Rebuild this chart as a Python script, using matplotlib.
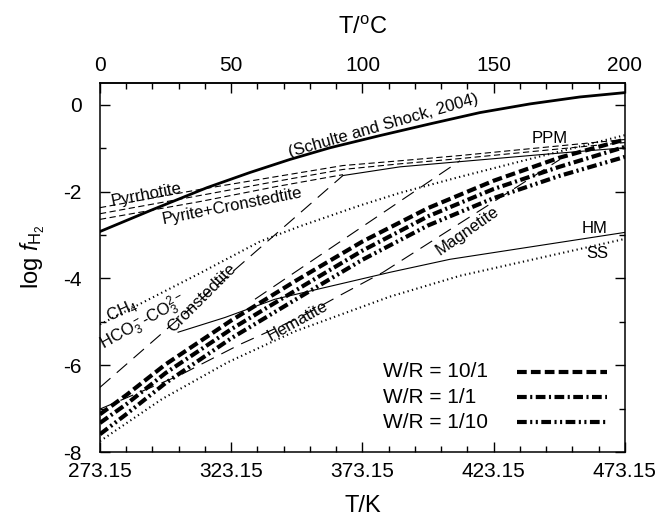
import numpy as np
import matplotlib
matplotlib.use("Agg")
import matplotlib.pyplot as plt

plt.rcParams['font.family'] = ['Liberation Sans', 'DejaVu Sans']
plt.rcParams['mathtext.fontset'] = 'custom'
plt.rcParams['mathtext.rm'] = 'Liberation Sans'
plt.rcParams['mathtext.it'] = 'Liberation Sans:italic'
plt.rcParams['lines.scale_dashes'] = False
plt.rcParams['axes.unicode_minus'] = False

# log fH2 vs temperature (K)
schulte_T = [273.15, 292.2, 313.9, 330.3, 345.5, 360.8, 379.8, 398.9, 417.9, 437.0, 456.0, 473.15]
schulte_f = [-2.92, -2.44, -1.91, -1.56, -1.26, -0.99, -0.71, -0.44, -0.18, 0.02, 0.18, 0.28]

# W/R model curves
wr_T = [273.15, 283.15, 298.15, 323.15, 348.15, 373.15, 398.15, 423.15, 448.15, 473.15]
wr10_f = [-7.13, -6.69, -5.98, -4.97, -4.04, -3.15, -2.38, -1.75, -1.22, -0.80]
wr1_f = [-7.33, -6.90, -6.18, -5.17, -4.26, -3.36, -2.57, -1.94, -1.43, -0.97]
wr01_f = [-7.59, -7.13, -6.41, -5.38, -4.47, -3.57, -2.78, -2.15, -1.64, -1.20]

# sulfide / silicate buffers
sulf_T = [273.15, 311.24, 339.82, 365.72, 387.43, 410.29, 440.77, 473.15]
pyrrh_f = [-2.37, -1.95, -1.66, -1.40, -1.29, -1.17, -0.99, -0.80]
pyrrh2_f = [-2.51, -2.09, -1.77, -1.49, -1.36, -1.24, -1.06, -0.87]
pycr_T = [273.15, 311.24, 339.82, 365.72]
pycr_f = [-2.64, -2.23, -1.89, -1.61]
pycr_solid_T = [365.72, 387.43, 410.29, 440.77, 473.15]
pycr_solid_f = [-1.63, -1.43, -1.31, -1.15, -0.99]

cron_T = [273.15, 365.72]
cron_f = [-6.51, -1.63]
cron2_T = [332.2, 410.29]
cron2_f = [-4.48, -1.29]

hem_T = [273.15, 303.6, 326.5, 349.3, 364.6, 380.96]
hem_f = [-7.01, -6.23, -5.52, -4.90, -4.39, -3.86]
mag_T = [380.96, 448.4]
mag_f = [-3.86, -1.26]

hm_T = [302.9, 320.8, 339.8, 383.6, 406.5, 473.15]
hm_f = [-5.24, -4.90, -4.48, -3.86, -3.56, -2.94]

ch4_T = [273.15, 292.2, 311.24, 334.1, 349.3, 372.2, 387.43, 410.29, 440.77, 473.15]
ch4_f = [-5.06, -4.47, -3.88, -3.15, -2.80, -2.32, -2.03, -1.66, -1.19, -0.70]

ss_T = [273.15, 296.77, 321.91, 347.43, 383.6, 410.29, 473.15]
ss_f = [-7.75, -6.78, -5.93, -5.22, -4.42, -3.94, -3.09]

fig = plt.figure(figsize=(6.67, 5.16), dpi=100)
ax = fig.add_axes([0.1499, 0.124, 0.787, 0.715])

thin = 0.8
shortdash = (0, (4.5, 2.5))
longdash = (0, (10, 6))
dotted = (0, (0.9, 2.4))
ax.plot(schulte_T, schulte_f, color='k', lw=2.0)
ax.plot(sulf_T, pyrrh_f, color='k', lw=thin, linestyle=shortdash)
ax.plot(sulf_T, pyrrh2_f, color='k', lw=thin, linestyle=shortdash)
ax.plot(pycr_T, pycr_f, color='k', lw=thin, linestyle=shortdash)
ax.plot(pycr_solid_T, pycr_solid_f, color='k', lw=thin)
ax.plot(cron_T, cron_f, color='k', lw=thin, linestyle=longdash)
ax.plot(cron2_T, cron2_f, color='k', lw=thin, linestyle=longdash)
ax.plot(hem_T, hem_f, color='k', lw=thin, linestyle=longdash)
ax.plot(mag_T, mag_f, color='k', lw=thin, linestyle=longdash)
ax.plot(hm_T, hm_f, color='k', lw=thin)
ax.plot(ch4_T, ch4_f, color='k', lw=1.5, linestyle=dotted)
ax.plot(ss_T, ss_f, color='k', lw=1.5, linestyle=dotted)

wr_styles = [(0, (7, 3)),
             (0, (7, 2.5, 1.5, 2.5)),
             (0, (7, 2.5, 1.5, 2.5, 1.5, 2.5))]
wr_labels = ['W/R = 10/1', 'W/R = 1/1', 'W/R = 1/10']
for f, ls in zip([wr10_f, wr1_f, wr01_f], wr_styles):
    ax.plot(wr_T, f, color='k', lw=3.0, linestyle=ls, dash_capstyle='butt')

# key for the W/R curves: text on the left, line sample on the right
for i, (lab, ls) in enumerate(zip(wr_labels, wr_styles)):
    yk = 0.217 - i * 0.068
    ax.text(0.539, yk, lab, transform=ax.transAxes, fontsize=15,
            ha='left', va='center')
    ax.plot([0.794, 0.966], [yk, yk], transform=ax.transAxes, color='k',
            lw=3.0, linestyle=ls, dash_capstyle='butt')

# curve labels
fs = 12
kw = dict(ha='center', va='center', rotation_mode='anchor', fontsize=fs)
ax.text(381.0, -0.48, '(Schulte and Shock, 2004)', rotation=16, **kw)
ax.text(290.67, -2.07, 'Pyrrhotite', rotation=11, **kw)
ax.text(323.44, -2.34, 'Pyrite+Cronstedtite', rotation=11, **kw)
ax.text(444.6, -0.78, 'PPM', **kw)
ax.text(461.7, -2.85, 'HM', **kw)
ax.text(462.5, -3.43, 'SS', **kw)
ax.text(412.96, -2.90, 'Magnetite', rotation=35, **kw)
ax.text(348.6, -4.97, 'Hematite', rotation=29, **kw)
ax.text(312.0, -4.46, 'Cronstedtite', rotation=45, **kw)
ax.text(281.5, -4.74, r'CH$_4$', rotation=24, **kw)
ax.text(289.5, -5.01, r'HCO$_3^-$-CO$_3^{2-}$', rotation=29, **kw)

ax.set_xlim(273.15, 473.15)
ax.set_ylim(-8, 0.5)
ax.set_xticks(np.arange(273.15, 473.2, 50))
ax.set_xticks(np.arange(273.15, 473.2, 10), minor=True)
ax.set_xticklabels(['273.15', '323.15', '373.15', '423.15', '473.15'])
ax.set_yticks([-8, -6, -4, -2, 0])
ax.set_yticks(np.arange(-7, 0.5, 2), minor=True)
ax.tick_params(which='both', direction='in', top=False, right=True, width=1.0,
               labelsize=15)
ax.tick_params(which='major', length=7)
ax.tick_params(which='minor', length=4.5)
ax.tick_params(axis='y', pad=13)
ax.tick_params(axis='x', pad=7)
for s in ax.spines.values():
    s.set_linewidth(1.1)

top = ax.secondary_xaxis('top', functions=(lambda t: t - 273.15, lambda c: c + 273.15))
top.set_xticks([0, 50, 100, 150, 200])
top.set_xticks(np.arange(0, 201, 10), minor=True)
top.tick_params(which='both', direction='in', width=1.0, labelsize=15, pad=6)
top.tick_params(which='major', length=7)
top.tick_params(which='minor', length=4.5)
top.spines['top'].set_linewidth(1.1)
top.set_xlabel(r'T/$^{\mathrm{o}}$C', fontsize=17, labelpad=16)

ax.set_xlabel('T/K', fontsize=17, labelpad=10)
ax.set_ylabel(r'log $f_{\mathrm{H_2}}$', fontsize=17)
ax.yaxis.set_label_coords(-0.1, 0.53)

fig.savefig('out.png', dpi=100)
